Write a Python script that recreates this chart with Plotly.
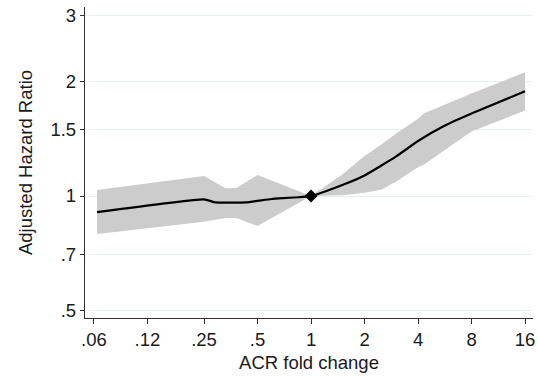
import plotly.graph_objects as go

# Point estimate (hazard ratio) by ACR fold change
x_line = [0.0625, 0.25, 0.29, 0.43, 0.6, 1, 1.5, 2, 3, 4, 5.5, 8, 16]
hr = [0.907, 0.980, 0.962, 0.962, 0.982, 1.0, 1.069, 1.133, 1.27, 1.397, 1.523, 1.65, 1.89]

# Confidence band
x_band = [0.0625, 0.25, 0.33, 0.38, 0.5, 1, 1.5, 2, 2.5, 3, 4, 4.3, 8, 16]
ci_hi = [1.037, 1.129, 1.048, 1.05, 1.136, 1.0, 1.14, 1.275, 1.37, 1.46, 1.60, 1.65, 1.864, 2.12]
ci_lo = [0.794, 0.855, 0.875, 0.875, 0.833, 1.0, 1.005, 1.02, 1.04, 1.09, 1.19, 1.21, 1.48, 1.68]

# Reference point
ref_x = [1]
ref_y = [1]

x_ticks = [0.06, 0.12, 0.25, 0.5, 1, 2, 4, 8, 16]
x_ticktext = [".06", ".12", ".25", ".5", "1", "2", "4", "8", "16"]
y_ticks = [0.5, 0.7, 1, 1.5, 2, 3]
y_ticktext = [".5", ".7", "1", "1.5", "2", "3"]

fig = go.Figure()
fig.add_trace(go.Scatter(
    x=x_band + x_band[::-1], y=ci_hi + ci_lo[::-1],
    fill="toself", fillcolor="#cccccc", line=dict(width=0),
    mode="lines", hoverinfo="skip", showlegend=False))
fig.add_trace(go.Scatter(
    x=x_line, y=hr, mode="lines",
    line=dict(color="#000000", width=2.2, shape="spline", smoothing=0.4),
    showlegend=False))
fig.add_trace(go.Scatter(
    x=ref_x, y=ref_y, mode="markers",
    marker=dict(symbol="diamond", size=10, color="#000000"), showlegend=False))

font = dict(family="Liberation Sans, Arial, sans-serif", size=18.5, color="#1a1a1a")

fig.update_layout(
    width=538, height=376,
    margin=dict(l=85, r=5, t=7, b=58),
    paper_bgcolor="white", plot_bgcolor="white",
    font=font,
    xaxis=dict(
        type="log", range=[-1.2718, 1.249], automargin=False,
        tickvals=x_ticks, ticktext=x_ticktext,
        showgrid=False, zeroline=False,
        showline=True, linecolor="#333333", linewidth=1.3,
        ticks="outside", ticklen=5, tickcolor="#333333", tickwidth=1,
        title=dict(text="ACR fold change", standoff=6, font=font),
        tickfont=font,
    ),
    yaxis=dict(
        type="log", range=[-0.3219, 0.4987], automargin=False,
        tickvals=y_ticks, ticktext=y_ticktext,
        showgrid=True, gridcolor="#e6efef", gridwidth=1,
        zeroline=False,
        showline=True, linecolor="#333333", linewidth=1.3,
        ticks="outside", ticklen=4, tickcolor="#333333", tickwidth=1,
        title=dict(text="Adjusted Hazard Ratio", standoff=12, font=font),
        tickfont=font,
    ),
)

fig.write_html("out.html", config={"displayModeBar": False},
               post_script="document.body.style.margin='0';")
